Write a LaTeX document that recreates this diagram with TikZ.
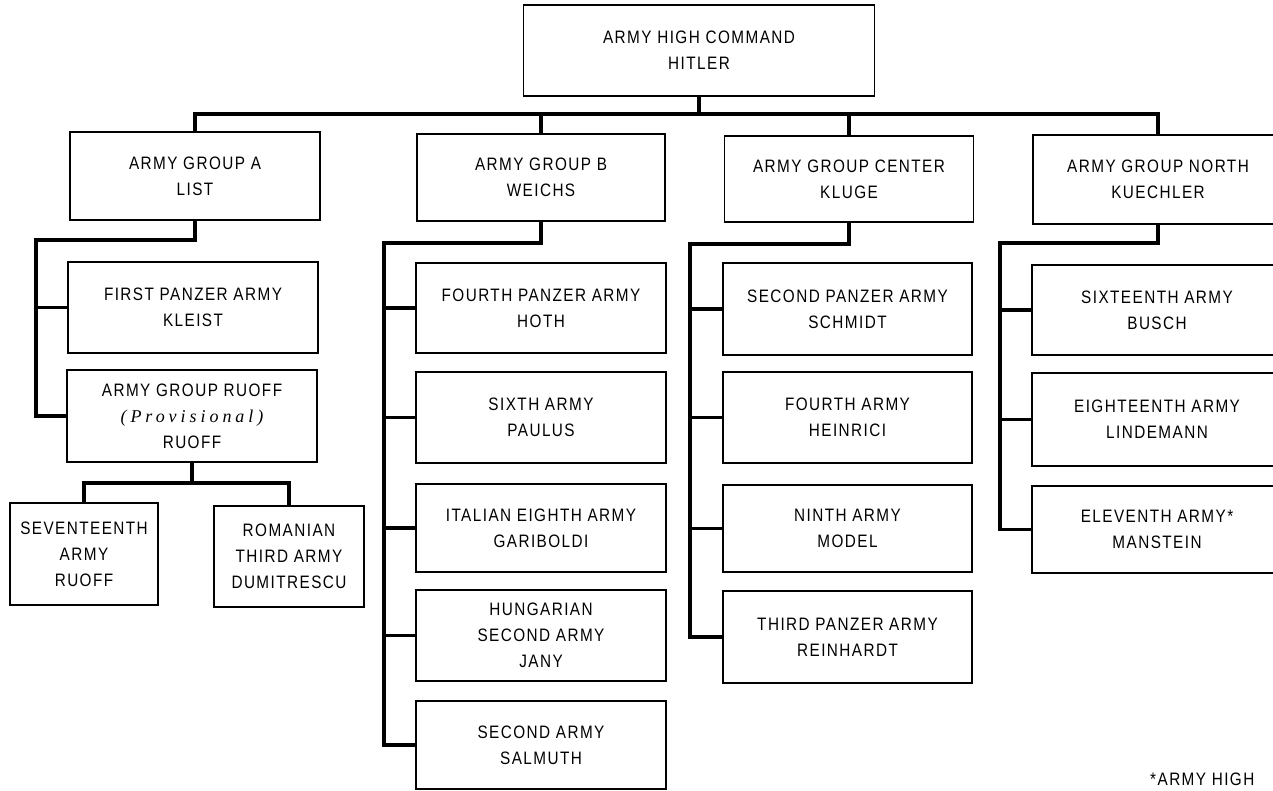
\documentclass[tikz,border=0pt]{standalone}
\usepackage{fontspec}
\setmainfont{Liberation Sans}[FakeStretch=0.85, LetterSpace=8]
\newfontfamily\provfont{Liberation Serif}[LetterSpace=22]
\begin{document}
\begin{tikzpicture}[x=1pt,y=-1pt,
  box/.style={draw, line width=1.5pt, inner sep=0pt, align=center,
    font=\fontsize{18}{26}\selectfont},
  conn/.style={line width=3.5pt, line cap=rect, line join=miter},
  colA/.style={box, minimum width=250pt},
  colB/.style={box, minimum width=250pt},
  colC/.style={box, minimum width=249pt},
  colN/.style={box, minimum width=250pt}
]
\useasboundingbox (0,0) rectangle (1273,790);
\fill[white] (0,0) rectangle (1273,790);
\clip (0,0) rectangle (1273,790);

% top
\node[box, minimum width=351pt, minimum height=91pt] (top) at (699,50.5) {ARMY HIGH COMMAND\\HITLER};

% army groups
\node[colA, minimum height=88pt] (gA) at (195,176) {ARMY GROUP A\\LIST};
\node[colB, minimum width=248pt, minimum height=87pt] (gB) at (541,177.5) {ARMY GROUP B\\WEICHS};
\node[colC, minimum height=86pt] (gC) at (849,179) {ARMY GROUP CENTER\\KLUGE};
\node[colN, minimum height=89pt] (gN) at (1158,179.5) {ARMY GROUP NORTH\\KUECHLER};

% group A column
\node[colA, minimum height=91pt] (fpa) at (193,307.5) {FIRST PANZER ARMY\\KLEIST};
\node[colA, minimum height=92pt] (rg) at (192,416) {ARMY GROUP RUOFF\\{\provfont\itshape (Provisional)}\\RUOFF};
\node[box, minimum width=148pt, minimum height=102pt] (s17) at (84,554) {SEVENTEENTH\\ARMY\\RUOFF};
\node[box, minimum width=150pt, minimum height=101pt] (rom) at (289,556.5) {ROMANIAN\\THIRD ARMY\\DUMITRESCU};

% group B column
\node[colB, minimum height=90pt] (pz4) at (541,308) {FOURTH PANZER ARMY\\HOTH};
\node[colB, minimum height=91pt] (six) at (541,417.5) {SIXTH ARMY\\PAULUS};
\node[colB, minimum height=88pt] (ita) at (541,528) {ITALIAN EIGHTH ARMY\\GARIBOLDI};
\node[colB, minimum height=91pt] (hun) at (541,635.5) {HUNGARIAN\\SECOND ARMY\\JANY};
\node[colB, minimum height=88pt] (sec) at (541,745) {SECOND ARMY\\SALMUTH};

% group Center column
\node[colC, minimum height=92pt] (pz2) at (847.5,309) {SECOND PANZER ARMY\\SCHMIDT};
\node[colC, minimum height=91pt] (fou) at (847.5,417.5) {FOURTH ARMY\\HEINRICI};
\node[colC, minimum height=87pt] (nin) at (847.5,528.5) {NINTH ARMY\\MODEL};
\node[colC, minimum height=92pt] (pz3) at (847.5,637) {THIRD PANZER ARMY\\REINHARDT};

% group North column
\node[colN, minimum height=90pt] (s16) at (1157,310) {SIXTEENTH ARMY\\BUSCH};
\node[colN, minimum height=93pt] (e18) at (1157,419.5) {EIGHTEENTH ARMY\\LINDEMANN};
\node[colN, minimum height=87pt] (e11) at (1157,529.5) {ELEVENTH ARMY*\\MANSTEIN};

% footnote
\node[anchor=base west, inner sep=0pt, font=\fontsize{18}{26}\selectfont] (fn) at (1150,785) {*ARMY HIGH};

% connectors
\coordinate (busY) at (0,114);
\draw[conn] (top.south) -- (top.south |- busY);
\draw[conn] (gA.north) -- (gA.north |- busY) -- (gN.north |- busY) -- (gN.north);
\draw[conn] (gB.north) -- (gB.north |- busY);
\draw[conn] (gC.north) -- (gC.north |- busY);

\coordinate (spA) at (36,240);
\draw[conn] (gA.south) |- (spA) |- (rg.west);
\draw[conn] (fpa.west) -- (fpa.west -| spA);

\coordinate (jR) at (0,483);
\draw[conn] (rg.south) -- (rg.south |- jR);
\draw[conn] (s17.north) -- (s17.north |- jR) -- (rom.north |- jR) -- (rom.north);

\coordinate (spB) at (384,243);
\draw[conn] (gB.south) |- (spB) |- (sec.west);
\foreach \n in {pz4,six,ita,hun} \draw[conn] (\n.west) -- (\n.west -| spB);

\coordinate (spC) at (690,244);
\draw[conn] (gC.south) |- (spC) |- (pz3.west);
\foreach \n in {pz2,fou,nin} \draw[conn] (\n.west) -- (\n.west -| spC);

\coordinate (spN) at (1000,243);
\draw[conn] (gN.south) |- (spN) |- (e11.west);
\foreach \n in {s16,e18} \draw[conn] (\n.west) -- (\n.west -| spN);
\end{tikzpicture}
\end{document}
